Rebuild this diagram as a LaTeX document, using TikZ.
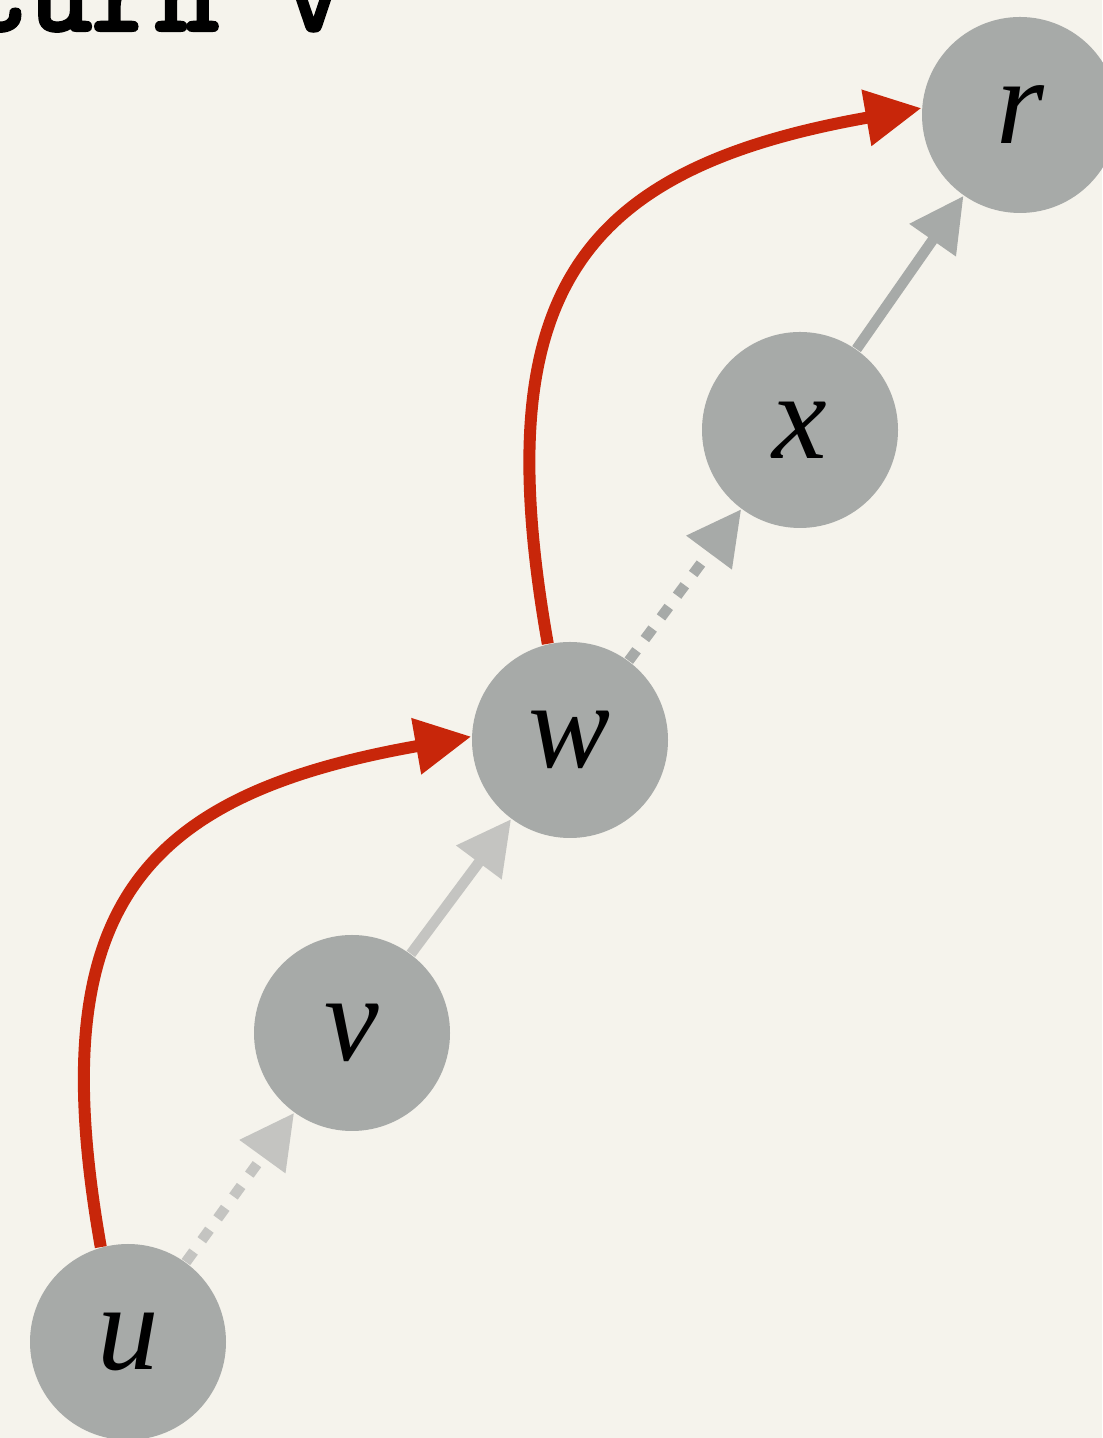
\documentclass[tikz,border=0pt]{standalone}
\usepackage{fontspec}
\setmainfont{Liberation Serif}
\newfontfamily\codefont[FakeBold=3.5]{Latin Modern Mono}
\usetikzlibrary{arrows.meta}
\definecolor{figbg}{HTML}{F5F3EC}
\definecolor{nodegrey}{HTML}{A7AAA8}
\definecolor{lightgrey}{HTML}{C4C4C1}
\definecolor{pathred}{HTML}{C8260A}
\tikzset{
  vtx/.style={circle,fill=nodegrey,minimum size=19.6mm,inner sep=0pt,
              font=\fontsize{35}{38}\selectfont\itshape},
  arr/.style={-{Triangle[length=5.4mm,width=5.4mm]},line width=1.05mm},
  dots/.style={dash pattern=on 1.3mm off 1.4mm},
  jump/.style={-{Triangle[length=5.6mm,width=5.4mm]},line width=1.2mm,pathred,
               out=100,in=190,looseness=1.38},
  code/.style={font={\codefont\fontsize{35}{38}\selectfont},inner sep=0pt},
}
\begin{document}
\begin{tikzpicture}

\fill[figbg] (0,0) rectangle (11.02,14.38);
\useasboundingbox (0,0) rectangle (11.02,14.38);

\node[code,anchor=base west] (ret) at (-0.355,14.08) {turn v};

\node[vtx] (u) at (1.28,0.96) {u};
\node[vtx] (v) at (3.52,4.05) {v};
\node[vtx] (w) at (5.70,6.98) {w};
\node[vtx] (x) at (8.00,10.08) {x};
\node[vtx] (r) at (10.20,13.23) {r};

% parent pointers
\draw[arr,dots,lightgrey] (u) -- (v);
\draw[arr,lightgrey] (v) -- (w);
\draw[arr,dots,nodegrey] (w) -- (x);
\draw[arr,nodegrey] (x) -- (r);

% compressed jumps
\draw[jump] (u.106) to (w.178);
\draw[jump] (w.103) to (r.176);

\end{tikzpicture}
\end{document}
